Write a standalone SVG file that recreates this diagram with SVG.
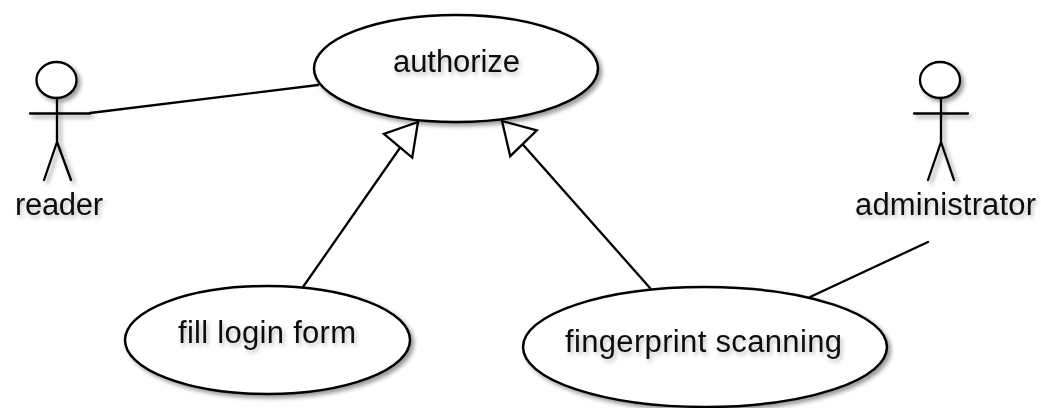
<svg xmlns="http://www.w3.org/2000/svg" width="1041" height="408" viewBox="0 0 1041 408">
<style>
.l{fill:none;stroke:#000;stroke-width:2.300;stroke-linecap:round}
.u{fill:#fff;stroke:#000;stroke-width:2.500}
.t{font-family:"Liberation Sans",Arial,sans-serif;font-size:31px;fill:#111;text-anchor:middle}
.s{filter:url(#sh)}
.st{filter:url(#shT)}
.h{fill:#fff;stroke:#000;stroke-width:2.300}
</style>
<defs>
<filter id="sh" filterUnits="userSpaceOnUse" x="0" y="0" width="1041" height="408">
<feDropShadow dx="3" dy="3" stdDeviation="2" flood-color="#000" flood-opacity="0.4"/>
</filter>
<filter id="shT" filterUnits="userSpaceOnUse" x="0" y="0" width="1041" height="408">
<feDropShadow dx="2" dy="3" stdDeviation="2" flood-color="#000" flood-opacity="0.25"/>
</filter>
<marker id="genL" markerUnits="userSpaceOnUse" markerWidth="36" markerHeight="42" refX="33" refY="21" orient="-50">
<path class="h" d="M33 21L2 2.500L2 39.500Z"/>
</marker>
<marker id="genR" markerUnits="userSpaceOnUse" markerWidth="36" markerHeight="42" refX="33" refY="21" orient="-134">
<path class="h" d="M33 21L2 2.500L2 39.500Z"/>
</marker>
</defs>
<rect width="1041" height="408" fill="#fff"/>
<g id="connectors">
<path class="l" d="M90 113L318 85"/>
<path class="l" d="M303 287L418 122" marker-end="url(#genL)"/>
<path class="l" d="M650 288L502 121" marker-end="url(#genR)"/>
<path class="l" d="M928 242L810 297"/>
</g>
<g id="authorize">
<ellipse class="u s" cx="456" cy="68.500" rx="142" ry="53.500"/>
<text class="t st" x="456.500" y="72" textLength="127">authorize</text>
</g>
<g id="fill-login-form">
<ellipse class="u s" cx="267.500" cy="340" rx="142.500" ry="54"/>
<text class="t st" x="267" y="343" textLength="178">fill login form</text>
</g>
<g id="fingerprint-scanning">
<ellipse class="u s" cx="705" cy="347" rx="182" ry="60"/>
<text class="t st" x="703.500" y="352" textLength="277">fingerprint scanning</text>
</g>
<g id="reader">
<g class="s">
<ellipse cx="56.500" cy="80" rx="20" ry="18" class="h"/>
<path class="l" d="M30 113.500H90M57 98V142M57 142L44 180M57 142L71 180"/>
</g>
<text class="t st" x="59" y="215" textLength="88">reader</text>
</g>
<g id="administrator">
<g class="s">
<ellipse cx="940" cy="80" rx="20" ry="18" class="h"/>
<path class="l" d="M914 113.500H968M941 98V142M941 142L928 180M941 142L954 180"/>
</g>
<text class="t st" x="945.500" y="215" textLength="181">administrator</text>
</g>
</svg>
